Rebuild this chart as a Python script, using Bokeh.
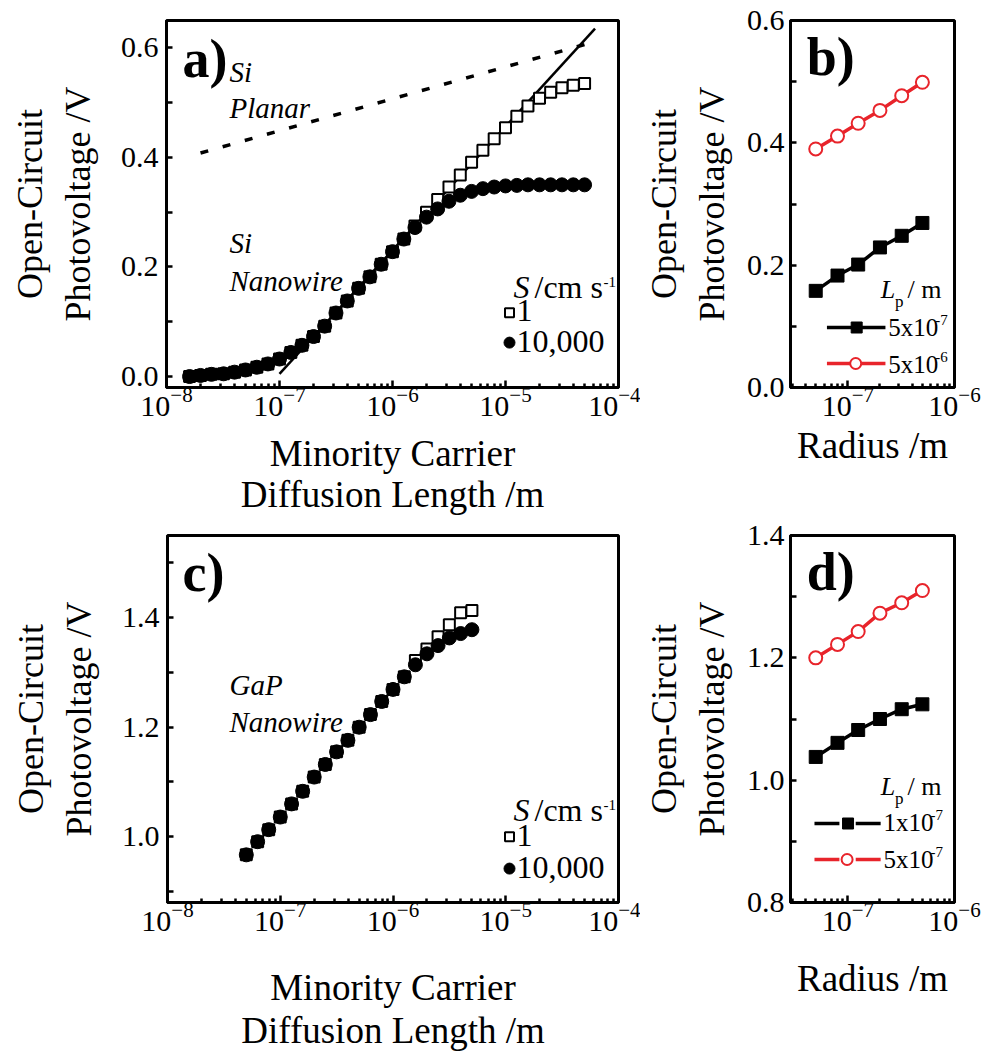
import math
from bokeh.plotting import figure
from bokeh.layouts import row, column
from bokeh.models import FixedTicker, LogTickFormatter, Range1d, NumeralTickFormatter
from bokeh.core.properties import value
from bokeh.embed import file_html
from bokeh.resources import INLINE

SERIF = "Liberation Serif"
RED = "#e8242b"

# ---------------- data ----------------
# panel a : Si nanowire, Voc vs minority carrier diffusion length
si_length = [1.6e-8, 2.0e-8, 2.5e-8, 3.2e-8, 4.0e-8, 5.0e-8, 6.3e-8, 7.9e-8,
             1.0e-7, 1.26e-7, 1.58e-7, 2.0e-7, 2.51e-7, 3.16e-7, 3.98e-7, 5.01e-7,
             6.31e-7, 7.94e-7, 1.0e-6, 1.26e-6, 1.58e-6, 2.0e-6, 2.51e-6, 3.16e-6,
             3.98e-6, 5.01e-6, 6.31e-6, 7.94e-6, 1.0e-5, 1.26e-5, 1.58e-5, 2.0e-5,
             2.51e-5, 3.16e-5, 3.98e-5, 5.01e-5]
si_voc_s10000 = [0.000, 0.002, 0.004, 0.005, 0.008, 0.012, 0.017, 0.023,
                 0.032, 0.044, 0.057, 0.073, 0.092, 0.116, 0.138, 0.161,
                 0.182, 0.205, 0.228, 0.251, 0.272, 0.291, 0.306, 0.320,
                 0.331, 0.338, 0.343, 0.346, 0.348, 0.349, 0.350, 0.350,
                 0.350, 0.350, 0.350, 0.350]
si_voc_s1 = [0.000, 0.002, 0.004, 0.005, 0.008, 0.012, 0.017, 0.023,
             0.032, 0.044, 0.057, 0.073, 0.092, 0.116, 0.138, 0.161,
             0.182, 0.205, 0.228, 0.251, 0.275, 0.300, 0.323, 0.346,
             0.368, 0.391, 0.413, 0.434, 0.454, 0.475, 0.494, 0.508,
             0.519, 0.527, 0.532, 0.535]
planar_length = [2.0e-8, 5.0e-5]
planar_voc = [0.408, 0.606]
fit_length = [1.0e-7, 6.2e-5]
fit_voc = [0.005, 0.635]

# panel c : GaP nanowire
gap_length = [5.0e-8, 6.3e-8, 7.9e-8, 1.0e-7, 1.26e-7, 1.58e-7, 2.0e-7, 2.51e-7,
              3.16e-7, 3.98e-7, 5.01e-7, 6.31e-7, 7.94e-7, 1.0e-6, 1.26e-6, 1.58e-6,
              2.0e-6, 2.51e-6, 3.16e-6, 3.98e-6, 5.01e-6]
gap_voc_s10000 = [0.967, 0.991, 1.013, 1.036, 1.060, 1.083, 1.109, 1.132,
                  1.155, 1.176, 1.200, 1.223, 1.247, 1.269, 1.292, 1.314,
                  1.334, 1.349, 1.363, 1.371, 1.378]
gap_voc_s1 = [0.967, 0.991, 1.013, 1.036, 1.060, 1.083, 1.109, 1.132,
              1.155, 1.176, 1.200, 1.223, 1.247, 1.269, 1.292, 1.322,
              1.343, 1.365, 1.387, 1.409, 1.413]

# panels b, d : Voc vs radius
radius = [5.0e-8, 8.0e-8, 1.25e-7, 2.0e-7, 3.2e-7, 5.0e-7]
si_r_lp5e7 = [0.158, 0.183, 0.201, 0.229, 0.248, 0.269]
si_r_lp5e6 = [0.390, 0.411, 0.432, 0.453, 0.477, 0.499]
gap_r_lp1e7 = [1.038, 1.061, 1.082, 1.100, 1.116, 1.124]
gap_r_lp5e7 = [1.200, 1.222, 1.243, 1.273, 1.290, 1.310]

# ticks
xt_long = [1e-8, 1e-7, 1e-6, 1e-5, 1e-4]
xt_short = [1e-7, 1e-6]

# ---------------- geometry (page pixels) ----------------
GA = dict(x0=166, w=452, top=19, h=368, xr=(1e-8, 1e-4), yr=(-0.02, 0.65))
GB = dict(x0=783, w=171, top=20, h=367, xr=(2.9e-8, 1e-6), yr=(0.0, 0.6))
GC = dict(x0=167, w=451, top=535, h=368, xr=(1e-8, 1e-4), yr=(0.88, 1.55))
GD = dict(x0=783, w=171, top=535, h=367, xr=(2.9e-8, 1e-6), yr=(0.8, 1.4))


def X(g, px):
    lo, hi = math.log10(g["xr"][0]), math.log10(g["xr"][1])
    return 10 ** (lo + (px - g["x0"]) / g["w"] * (hi - lo))


def Y(g, py):
    lo, hi = g["yr"]
    return hi - (py - g["top"]) / g["h"] * (hi - lo)


def minor_log(lo_exp, hi_exp):
    return [m * 10.0 ** e for e in range(lo_exp, hi_exp) for m in range(2, 10)]


def make_fig(g, width, height, left, right, top, bottom, yticks, yminor, xticks,
             xminor, xstand, ystand, ylab_standoff=8, xlh=1.0):
    p = figure(width=width, height=height, x_axis_type="log",
               x_range=Range1d(*g["xr"]), y_range=Range1d(*g["yr"]),
               output_backend="svg", toolbar_location=None,
               min_border_left=left, min_border_right=right,
               min_border_top=top, min_border_bottom=bottom)
    p.grid.visible = False
    p.background_fill_color = "white"
    p.border_fill_color = "white"
    p.outline_line_color = "black"
    p.outline_line_width = 3
    p.outline_line_alpha = 1.0
    for ax in (p.xaxis[0], p.yaxis[0]):
        ax.axis_line_width = 3
        ax.axis_line_color = "black"
        ax.major_tick_line_width = 2.5
        ax.minor_tick_line_width = 2.5
        ax.major_tick_out = 0
        ax.minor_tick_out = 0
        ax.major_label_text_font = SERIF
        ax.major_label_text_font_size = "30px"
        ax.major_label_text_color = "black"
        ax.axis_label_text_font = SERIF
        ax.axis_label_text_font_style = "normal"
        ax.axis_label_text_color = "black"
    p.xaxis.ticker = FixedTicker(ticks=xticks, minor_ticks=xminor)
    p.xaxis.formatter = LogTickFormatter()
    p.xaxis.major_tick_in = 7
    p.xaxis.minor_tick_in = 4
    p.xaxis.major_label_standoff = 0
    p.xaxis.axis_label_standoff = xstand
    p.xaxis.axis_label_text_font_size = "37px"
    p.xaxis.axis_label_text_line_height = xlh
    p.yaxis.ticker = FixedTicker(ticks=yticks, minor_ticks=yminor)
    p.yaxis.formatter = NumeralTickFormatter(format="0.0")
    p.yaxis.major_tick_in = 6
    p.yaxis.minor_tick_in = 6
    p.yaxis.major_label_standoff = ylab_standoff
    p.yaxis.axis_label_standoff = ystand
    p.yaxis.axis_label_text_font_size = "36px"
    p.yaxis.axis_label_text_line_height = 1.2
    p.yaxis.axis_label = "Open-Circuit\nPhotovoltage /V"
    return p


def txt(p, g, px, py_base, s, size, style="normal", color="black"):
    # py_base: baseline in page pixels; text is placed by its vertical middle
    py_mid = py_base - 0.3375 * size
    p.text(x=[X(g, px)], y=[Y(g, py_mid)], text=[s], text_font=value(SERIF),
           text_font_size=f"{size}px", text_font_style=style, text_color=color,
           text_baseline="middle", text_align="left")


TOP_H = 518
BOT_H = 1057 - TOP_H

# ---------------- panel a ----------------
pa = make_fig(GA, 640, TOP_H, 166, 22, 19, TOP_H - 19 - 368,
              [0.0, 0.2, 0.4, 0.6], [0.1, 0.3, 0.5],
              xt_long, minor_log(-8, -4), 14, 20)
pa.xaxis.axis_label = "Minority Carrier\nDiffusion Length /m"
pa.line(planar_length, planar_voc, line_color="black", line_width=3.5, line_dash="8 15")
pa.line(fit_length, fit_voc, line_color="black", line_width=2.5)
pa.scatter(si_length, si_voc_s1, marker="square", size=11, fill_color="white",
           line_color="black", line_width=2)
pa.scatter(si_length, si_voc_s10000, marker="circle", size=14, fill_color="black",
           line_color="black")
txt(pa, GA, 182, 76, "a)", 54, "bold")
txt(pa, GA, 229, 80, "Si", 29, "italic")
txt(pa, GA, 229, 117, "Planar", 29, "italic")
txt(pa, GA, 229, 252, "Si", 29, "italic")
txt(pa, GA, 229, 290, "Nanowire", 29, "italic")
txt(pa, GA, 513, 297, "S", 32, "italic")
txt(pa, GA, 534, 297, "/cm s", 32)
txt(pa, GA, 603, 286, "-1", 15)
pa.scatter([X(GA, 509)], [Y(GA, 312)], marker="square", size=9, fill_color="white",
           line_color="black", line_width=2)
txt(pa, GA, 516, 321, "1", 32)
pa.scatter([X(GA, 509)], [Y(GA, 342)], marker="circle", size=11, fill_color="black",
           line_color="black")
txt(pa, GA, 516, 352, "10,000", 32)

# ---------------- panel b ----------------
pb = make_fig(GB, 342, TOP_H, 143, 28, 20, TOP_H - 20 - 367,
              [0.0, 0.2, 0.4, 0.6], [0.1, 0.3, 0.5],
              xt_short, minor_log(-8, -6), 6, 12, ylab_standoff=6)
pb.xaxis.axis_label = "Radius /m"
pb.line(radius, si_r_lp5e7, line_color="black", line_width=3.5)
pb.scatter(radius, si_r_lp5e7, marker="square", size=13, fill_color="black",
           line_color="black")
pb.line(radius, si_r_lp5e6, line_color=RED, line_width=3.5)
pb.scatter(radius, si_r_lp5e6, marker="circle", size=13, fill_color="white",
           line_color=RED, line_width=2)
txt(pb, GB, 800, 75, "b)", 54, "bold")
txt(pb, GB, 877, 298, "L", 26, "italic")
txt(pb, GB, 892, 307, "p", 17)
txt(pb, GB, 905, 298, "/ m", 26)
pb.line([X(GB, 821), X(GB, 882)], [Y(GB, 327)] * 2, line_color="black", line_width=3.5)
pb.scatter([X(GB, 852)], [Y(GB, 327)], marker="square", size=11, fill_color="black",
           line_color="black")
txt(pb, GB, 885, 335, "5x10", 25)
txt(pb, GB, 934, 325, "-7", 15)
pb.line([X(GB, 821), X(GB, 882)], [Y(GB, 363)] * 2, line_color=RED, line_width=3.5)
pb.scatter([X(GB, 851)], [Y(GB, 363)], marker="circle", size=11, fill_color="white",
           line_color=RED, line_width=2)
txt(pb, GB, 885, 372, "5x10", 25)
txt(pb, GB, 934, 362, "-6", 15)

# ---------------- panel c ----------------
c_top = 535 - TOP_H
pc = make_fig(GC, 640, BOT_H, 167, 22, c_top, BOT_H - c_top - 368,
              [1.0, 1.2, 1.4], [0.9, 1.1, 1.3, 1.5],
              xt_long, minor_log(-8, -4), 33, 20, xlh=1.05)
pc.xaxis.axis_label = "Minority Carrier\nDiffusion Length /m"
pc.scatter(gap_length, gap_voc_s1, marker="square", size=11, fill_color="white",
           line_color="black", line_width=2)
pc.scatter(gap_length, gap_voc_s10000, marker="circle", size=14, fill_color="black",
           line_color="black")
txt(pc, GC, 182, 591, "c)", 54, "bold")
txt(pc, GC, 229, 695, "GaP", 29, "italic")
txt(pc, GC, 229, 732, "Nanowire", 29, "italic")
txt(pc, GC, 513, 821, "S", 32, "italic")
txt(pc, GC, 534, 821, "/cm s", 32)
txt(pc, GC, 603, 810, "-1", 15)
pc.scatter([X(GC, 509)], [Y(GC, 837)], marker="square", size=9, fill_color="white",
           line_color="black", line_width=2)
txt(pc, GC, 516, 847, "1", 32)
pc.scatter([X(GC, 509)], [Y(GC, 869)], marker="circle", size=11, fill_color="black",
           line_color="black")
txt(pc, GC, 516, 879, "10,000", 32)

# ---------------- panel d ----------------
pd_ = make_fig(GD, 342, BOT_H, 143, 28, c_top, BOT_H - c_top - 367,
               [0.8, 1.0, 1.2, 1.4], [0.9, 1.1, 1.3],
               xt_short, minor_log(-8, -6), 24, 12, ylab_standoff=6)
pd_.xaxis.axis_label = "Radius /m"
pd_.line(radius, gap_r_lp1e7, line_color="black", line_width=3.5)
pd_.scatter(radius, gap_r_lp1e7, marker="square", size=13, fill_color="black",
            line_color="black")
pd_.line(radius, gap_r_lp5e7, line_color=RED, line_width=3.5)
pd_.scatter(radius, gap_r_lp5e7, marker="circle", size=13, fill_color="white",
            line_color=RED, line_width=2)
txt(pd_, GD, 800, 590, "d)", 54, "bold")
txt(pd_, GD, 877, 795, "L", 26, "italic")
txt(pd_, GD, 892, 804, "p", 17)
txt(pd_, GD, 905, 795, "/ m", 26)
for (a, b) in ((808, 834), (851, 877)):
    pd_.line([X(GD, a), X(GD, b)], [Y(GD, 823)] * 2, line_color="black", line_width=3.5)
    pd_.line([X(GD, a), X(GD, b)], [Y(GD, 859)] * 2, line_color=RED, line_width=3.5)
pd_.scatter([X(GD, 843)], [Y(GD, 823)], marker="square", size=11, fill_color="black",
            line_color="black")
txt(pd_, GD, 880, 830, "1x10", 25)
txt(pd_, GD, 929, 820, "-7", 15)
pd_.scatter([X(GD, 842)], [Y(GD, 859)], marker="circle", size=11, fill_color="white",
            line_color=RED, line_width=2)
txt(pd_, GD, 880, 867, "5x10", 25)
txt(pd_, GD, 929, 857, "-7", 15)

layout = column(row(pa, pb), row(pc, pd_))
open("out.html", "w").write(file_html(layout, INLINE))
